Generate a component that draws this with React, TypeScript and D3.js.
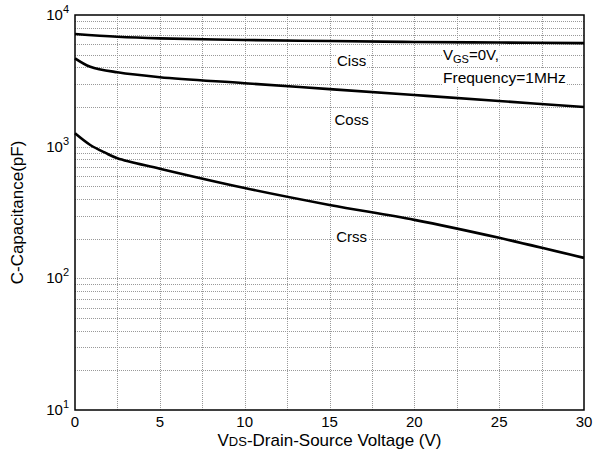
import React, { useRef, useEffect } from 'react'
import * as d3 from 'd3'

// Voltage samples (V) and capacitances (pF)
const vdsCiss = [0, 2.5, 5, 10, 15, 20, 25, 30]
const ciss = [7180, 6840, 6650, 6460, 6340, 6240, 6180, 6120]

const vdsCoss = [0, 0.9, 2.5, 5, 10, 15, 20, 25, 30]
const coss = [4690, 4050, 3670, 3370, 3035, 2735, 2466, 2223, 2000]

const vdsCrss = [0, 0.9, 1.8, 2.5, 5, 10, 15, 20, 25, 30]
const crss = [1264, 1030, 896, 817, 680, 485, 361, 278, 203, 143]

const xTicks = [0, 5, 10, 15, 20, 25, 30]
const xGrid = [2.5, 5, 7.5, 10, 12.5, 15, 17.5, 20, 22.5, 25, 27.5]
const yDecades = [10, 100, 1000, 10000]

const curveLabels = [
  { text: 'Ciss', v: 16.3, c: 4100 },
  { text: 'Coss', v: 16.3, c: 1460 },
  { text: 'Crss', v: 16.3, c: 189 },
]

export default function App() {
  const visEl = useRef<HTMLDivElement>(null)
  const width = 593
  const height = 455

  useEffect(() => {
    document.body.style.margin = '0'
    const root = d3.select(visEl.current)
    root.selectAll('*').remove()
    const svg = root.append('svg')
      .attr('width', width)
      .attr('height', height)
      .style('display', 'block')
      .style('font-family', '"Liberation Sans", Arial, sans-serif')

    const margin = { top: 15, right: 9, bottom: 45, left: 75 }
    const innerWidth = width - margin.left - margin.right
    const innerHeight = height - margin.top - margin.bottom

    const xScale = d3.scaleLinear().domain([0, 30]).range([0, innerWidth])
    const yScale = d3.scaleLog().domain([10, 10000]).range([innerHeight, 0])

    const g = svg.append('g').attr('transform', `translate(${margin.left},${margin.top})`)

    // grid
    const minor: number[] = []
    yDecades.slice(0, 3).forEach(d => {
      for (let k = 2; k <= 10; k++) minor.push(d * k)
    })
    g.selectAll('.hgrid').data(minor.filter(v => v < 10000)).enter().append('line')
      .attr('x1', 0).attr('x2', innerWidth)
      .attr('y1', d => Math.round(yScale(d)) + 0.5).attr('y2', d => Math.round(yScale(d)) + 0.5)
      .attr('stroke', '#999').attr('stroke-width', 1).attr('stroke-dasharray', '1,1')
    g.selectAll('.vgrid').data(xGrid).enter().append('line')
      .attr('y1', 0).attr('y2', innerHeight)
      .attr('x1', d => Math.round(xScale(d)) + 0.5).attr('x2', d => Math.round(xScale(d)) + 0.5)
      .attr('stroke', '#999').attr('stroke-width', 1).attr('stroke-dasharray', '1,1')

    // x tick labels
    g.selectAll('.xt').data(xTicks).enter().append('text')
      .attr('x', d => xScale(d)).attr('y', innerHeight + 17)
      .attr('text-anchor', 'middle').attr('font-size', 15).text(d => d)

    // y tick labels 10^n
    yDecades.forEach(d => {
      const t = g.append('text')
        .attr('x', -6).attr('y', yScale(d) + 5)
        .attr('text-anchor', 'end').attr('font-size', 15)
      t.append('tspan').text('10')
      t.append('tspan').attr('dy', -7).attr('font-size', 11).text(Math.round(Math.log10(d)))
    })

    // white boxes behind in-plot texts
    const boxed = (sel: d3.Selection<SVGTextElement, unknown, null, undefined>) => {
      const b = (sel.node() as SVGTextElement).getBBox()
      g.insert('rect', 'text')
        .attr('x', b.x - 1).attr('y', b.y).attr('width', b.width + 2).attr('height', b.height)
        .attr('fill', '#fff')
    }

    // curve labels
    curveLabels.forEach(l => {
      const t = g.append('text').attr('x', xScale(l.v)).attr('y', yScale(l.c))
        .attr('text-anchor', 'middle').attr('font-size', 15).text(l.text)
      boxed(t as any)
    })

    // conditions
    const cond = g.append('text').attr('x', 368).attr('y', 45).attr('font-size', 15)
    cond.append('tspan').text('V')
    cond.append('tspan').attr('font-size', 11).attr('dy', 3).text('GS')
    cond.append('tspan').attr('dy', -3).text('=0V,')
    boxed(cond as any)
    const freq = g.append('text').attr('x', 368).attr('y', 68).attr('font-size', 15.5).text('Frequency=1MHz')
    boxed(freq as any)

    // curves
    const lineGen = d3.line<[number, number]>()
      .x(d => xScale(d[0])).y(d => yScale(d[1])).curve(d3.curveCatmullRom.alpha(0.5))
    const series: [number[], number[]][] = [[vdsCiss, ciss], [vdsCoss, coss], [vdsCrss, crss]]
    series.forEach(([xs, ys]) => {
      g.append('path')
        .attr('d', lineGen(xs.map((x, i) => [x, ys[i]] as [number, number])))
        .attr('fill', 'none').attr('stroke', '#000').attr('stroke-width', 2.6)
    })

    // frame
    g.append('rect')
      .attr('x', 0).attr('y', 0).attr('width', innerWidth).attr('height', innerHeight)
      .attr('fill', 'none').attr('stroke', '#000').attr('stroke-width', 1.5)

    // axis titles
    const xt = svg.append('text').attr('x', margin.left + innerWidth / 2).attr('y', 446)
      .attr('text-anchor', 'middle').attr('font-size', 17)
    xt.append('tspan').text('V')
    xt.append('tspan').attr('font-size', 13).text('DS')
    xt.append('tspan').text('-Drain-Source Voltage (V)')

    svg.append('text')
      .attr('transform', `translate(23,${margin.top + innerHeight / 2}) rotate(-90)`)
      .attr('text-anchor', 'middle').attr('font-size', 17)
      .text('C-Capacitance(pF)')
  }, [])

  return <div ref={visEl}></div>
}
